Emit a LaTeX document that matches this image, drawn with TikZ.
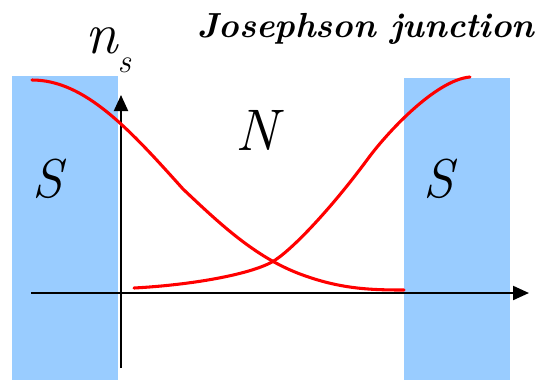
\documentclass[tikz,border=0pt]{standalone}
\usetikzlibrary{arrows.meta}
\definecolor{sblue}{HTML}{99CCFF}
\tikzset{
  sblock/.style={fill=sblue, draw=none},
  axis/.style={line width=1.6pt, -{Triangle[length=12pt,width=10.5pt]}},
  nscurve/.style={red, line width=2.3pt, line cap=round},
  biglabel/.style={inner sep=0pt, font=\fontsize{44}{44}\selectfont\itshape},
}
\begin{document}
\begin{tikzpicture}[x=0.75pt,y=-0.75pt]
\useasboundingbox (0,0) rectangle (544,380);
% superconducting blocks
\fill[sblock] (12,76) rectangle (118,380);
\fill[sblock] (404,78) rectangle (510,380);
% axes
\coordinate (xs) at (31,293);
\coordinate (xe) at (529,293);
\coordinate (ys) at (121,368);
\coordinate (ye) at (121,95);
\draw[axis] (xs) -- (xe);
\draw[axis] (ys) -- (ye);
% curves
\draw[nscurve] (32,80) .. controls (85,80) and (130,130) .. (183,189)
   .. controls (220,224) and (255,257) .. (300,274)
   .. controls (340,289) and (370,290) .. (404,290);
\draw[nscurve] (134,288) .. controls (190,285) and (248,275) .. (272,262)
   .. controls (290,252) and (330,210) .. (367,160)
   .. controls (385,135) and (435,80) .. (470,77);
% labels
\node[biglabel, anchor=base] (nl) at (257,150) {N};
\node[biglabel, anchor=base, font=\fontsize{41}{41}\selectfont\itshape] (sl) at (48,197) {S};
\node[biglabel, anchor=base, font=\fontsize{41}{41}\selectfont\itshape] (sr) at (439,197) {S};
\node[biglabel, anchor=base west, font=\fontsize{44}{44}\selectfont\itshape] (ns) at (85,53) {n\raisebox{-0.33em}{\fontsize{25}{25}\selectfont s}};
\node[inner sep=0pt, anchor=base west] (title) at (197,37) {\resizebox{253pt}{!}{\bfseries\itshape Josephson junction}};
\end{tikzpicture}
\end{document}
